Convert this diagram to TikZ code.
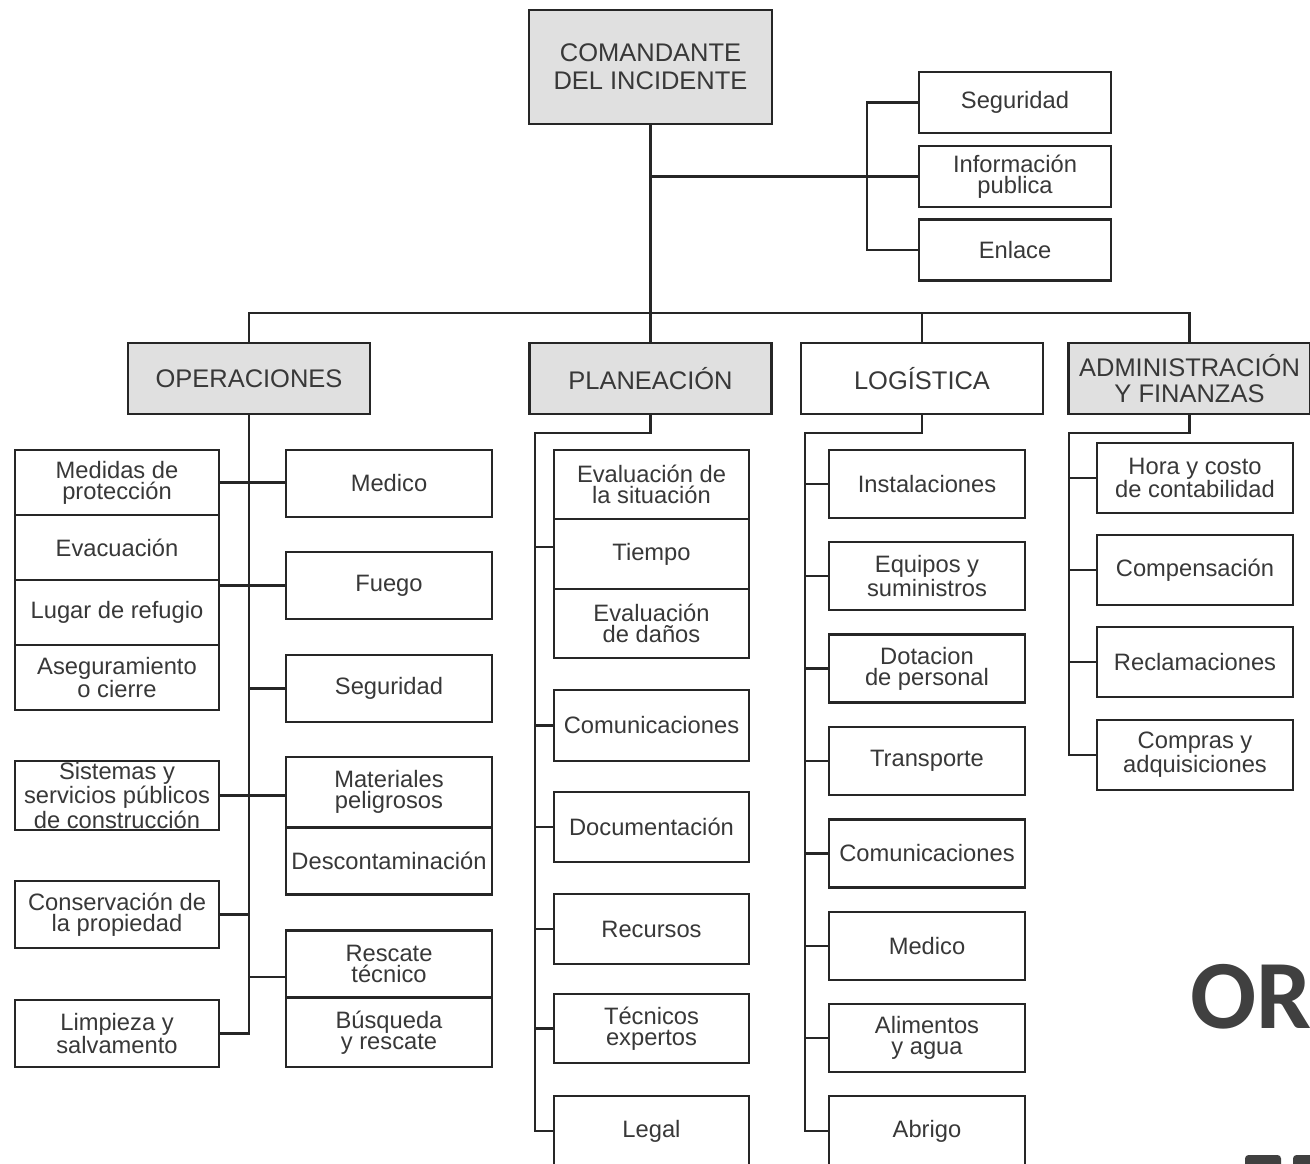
\documentclass[tikz,border=0pt]{standalone}
\usepackage{fontspec}
\setmainfont{Liberation Sans}
\newfontfamily\carlito{Carlito}

\definecolor{linea}{HTML}{262626}
\definecolor{texto}{HTML}{383838}
\definecolor{grisjefe}{HTML}{E0E0E0}
\definecolor{titulogris}{HTML}{404040}

\newcommand{\cuerpo}{\fontsize{13.5}{12}\selectfont}
\newcommand{\titulo}{\fontsize{14.5}{16}\selectfont}

\tikzset{
  caja/.style={draw=linea, line width=1.2pt, fill=white, text=texto, align=center,
    inner sep=1pt, font=\cuerpo, minimum height=1.34cm},
  jefe/.style={caja, fill=grisjefe, font=\titulo},
  staff/.style={caja, minimum width=3.84cm, minimum height=1.22cm},
  seccion/.style={caja, minimum width=4.84cm, minimum height=1.42cm, font=\titulo},
  opizq/.style={caja, minimum width=4.08cm},
  opder/.style={caja, minimum width=4.12cm},
  colpl/.style={caja, minimum width=3.9cm, minimum height=1.4cm},
  collg/.style={caja, minimum width=3.92cm, minimum height=1.36cm},
  colad/.style={caja, minimum width=3.92cm, minimum height=1.4cm},
  conector/.style={draw=linea, line width=1.5pt}
}

\begin{document}
\begin{tikzpicture}[x=0.02cm,y=-0.02cm]
\useasboundingbox (0,0) rectangle (1310,1163);
\clip (0,0) rectangle (1310,1163);

% mando y staff
\node[jefe, minimum width=4.86cm, minimum height=2.28cm] (cmd) at (650.5,67) {COMANDANTE\\DEL INCIDENTE};
\node[staff] (seg) at (1015,102.5) {Seguridad};
\node[staff] (info) at (1015,176.5) {Información\\publica};
\node[staff] (enl) at (1015,250) {Enlace};

% secciones
\node[seccion, fill=grisjefe] (ops) at (249,378.5) {OPERACIONES};
\node[seccion, fill=grisjefe] (plan) at (650.5,378.5) {PLANEACIÓN};
\node[seccion] (log) at (922,378.5) {LOGÍSTICA};
\node[seccion, fill=grisjefe, font=\fontsize{14.5}{14.8}\selectfont] (adm) at (1189.5,378.5) {ADMINISTRACIÓN\\Y FINANZAS};

% operaciones
\node[opizq, minimum height=1.3cm] (medidas) at (117,482.5) {Medidas de\\protección};
\node[opizq, minimum height=1.3cm] (evac) at (117,547.5) {Evacuación};
\node[opizq, minimum height=1.3cm] (lugar) at (117,612.5) {Lugar de refugio};
\node[opizq, minimum height=1.3cm] (asegura) at (117,677.5) {Aseguramiento\\o cierre};
\node[opizq, font=\fontsize{13.5}{11.2}\selectfont] (sistemas) at (117,795.5) {Sistemas y\\servicios públicos\\de construcción};
\node[opizq] (conserva) at (117,914.5) {Conservación de\\la propiedad};
\node[opizq] (limpieza) at (117,1033.5) {Limpieza y\\salvamento};

\node[opder] (medico) at (389,483.5) {Medico};
\node[opder] (fuego) at (389,585.5) {Fuego};
\node[opder] (seguop) at (389,688.5) {Seguridad};
\node[opder, minimum height=1.4cm] (materiales) at (389,792) {Materiales\\peligrosos};
\node[opder] (descont) at (389,861) {Descontaminación};
\node[opder] (rescate) at (389,964) {Rescate\\técnico};
\node[opder, minimum height=1.38cm] (busqueda) at (389,1032.5) {Búsqueda\\y rescate};

% planeacion
\node[colpl, minimum height=1.38cm] (evsit) at (651.5,484.5) {Evaluación de\\la situación};
\node[colpl] (tiempo) at (651.5,554) {Tiempo};
\node[colpl, minimum height=1.38cm] (evdan) at (651.5,623.5) {Evaluación\\de daños};
\node[colpl, minimum height=1.42cm] (comunic) at (651.5,725.5) {Comunicaciones};
\node[colpl] (docum) at (651.5,827) {Documentación};
\node[colpl] (recursos) at (651.5,929) {Recursos};
\node[colpl, minimum height=1.38cm] (tecnicos) at (651.5,1028.5) {Técnicos\\expertos};
\node[colpl] (legal) at (651.5,1131) {Legal};

% logistica
\node[collg] (instal) at (927,484) {Instalaciones};
\node[collg] (equipos) at (927,576) {Equipos y\\suministros};
\node[collg] (dotacion) at (927,668.5) {Dotacion\\de personal};
\node[collg] (transp) at (927,761) {Transporte};
\node[collg] (comlog) at (927,853.5) {Comunicaciones};
\node[collg] (medlog) at (927,946) {Medico};
\node[collg] (alim) at (927,1038) {Alimentos\\y agua};
\node[collg, minimum height=1.4cm] (abrigo) at (927,1131) {Abrigo};

% administracion
\node[colad] (hora) at (1195,478) {Hora y costo\\de contabilidad};
\node[colad] (compens) at (1195,570) {Compensación};
\node[colad] (reclam) at (1195,662) {Reclamaciones};
\node[colad] (compras) at (1195,755) {Compras y\\adquisiciones};

% lineas de mando
\coordinate (barra) at (650.5,313);
\draw[conector] (cmd.south) -- (plan.north);
\draw[conector] (cmd.south |- info.west) -- (info.west);
\draw[conector] (seg.west) -- ([xshift=-1.02cm]seg.west) |- (enl.west);
\draw[conector] (ops.north) |- (barra) -| (adm.north);
\draw[conector] (log.north) -- (log.north |- barra);

% lineas operaciones
\coordinate (rescp) at ([yshift=-0.26cm]rescate.west);
\draw[conector] (ops.south) -- (ops.south |- limpieza.east) -- (limpieza.east);
\draw[conector] (medidas.east) -- (medidas.east -| medico.west);
\draw[conector] (fuego.west) -- (fuego.west -| lugar.east);
\draw[conector] (seguop.west) -- (seguop.west -| ops.south);
\draw[conector] (sistemas.east) -- (sistemas.east -| materiales.west);
\draw[conector] (conserva.east) -- (conserva.east -| ops.south);
\draw[conector] (rescp) -- (rescp -| ops.south);

% lineas planeacion
\coordinate (plcodo) at (535,433);
\coordinate (tiemp) at ([yshift=0.14cm]tiempo.west);
\draw[conector] (plan.south) |- (plcodo) -- (plcodo |- legal.west) -- (legal.west);
\draw[conector] (tiemp) -- (tiemp -| plcodo);
\draw[conector] (comunic.west) -- (comunic.west -| plcodo);
\draw[conector] (docum.west) -- (docum.west -| plcodo);
\draw[conector] (recursos.west) -- (recursos.west -| plcodo);
\draw[conector] (tecnicos.west) -- (tecnicos.west -| plcodo);

% lineas logistica
\coordinate (lgcodo) at (805,433);
\draw[conector] (log.south) |- (lgcodo) -- (lgcodo |- abrigo.west) -- (abrigo.west);
\draw[conector] (instal.west) -- (instal.west -| lgcodo);
\draw[conector] (equipos.west) -- (equipos.west -| lgcodo);
\draw[conector] (dotacion.west) -- (dotacion.west -| lgcodo);
\draw[conector] (transp.west) -- (transp.west -| lgcodo);
\draw[conector] (comlog.west) -- (comlog.west -| lgcodo);
\draw[conector] (medlog.west) -- (medlog.west -| lgcodo);
\draw[conector] (alim.west) -- (alim.west -| lgcodo);

% lineas administracion
\coordinate (adcodo) at (1069,433);
\draw[conector] (adm.south) |- (adcodo) -- (adcodo |- compras.west) -- (compras.west);
\draw[conector] (hora.west) -- (hora.west -| adcodo);
\draw[conector] (compens.west) -- (compens.west -| adcodo);
\draw[conector] (reclam.west) -- (reclam.west -| adcodo);

% titulo cortado
\node[anchor=base west, inner sep=0, text=titulogris, font=\carlito\bfseries\fontsize{55.7}{60}\selectfont] (titulo) at (1190,1028) {OR};
\fill[titulogris, rounded corners=2pt] (1245,1155) rectangle (1281,1180);
\fill[titulogris, rounded corners=2pt] (1293,1155) rectangle (1330,1180);
\end{tikzpicture}
\end{document}
